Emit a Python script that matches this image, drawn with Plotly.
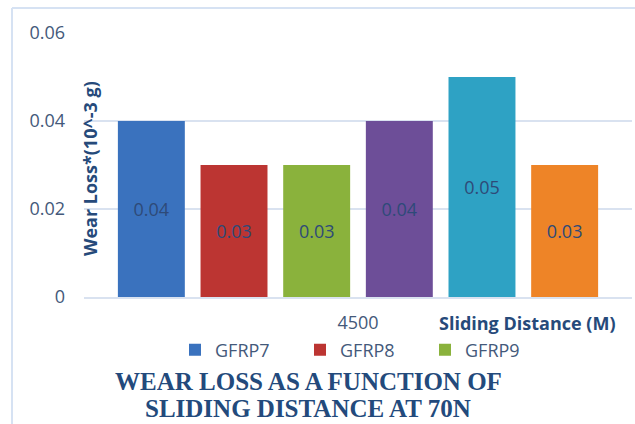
import plotly.graph_objects as go

categories = ["4500"]
series_names = ["GFRP7", "GFRP8", "GFRP9", "GFRP10", "GFRP11", "GFRP12"]
series_values = [0.04, 0.03, 0.03, 0.04, 0.05, 0.03]
series_colors = ["#3A72BE", "#BC3532", "#8AB23C", "#6D4E98", "#2EA2C4", "#EE8427"]
show_in_legend = [True, True, True, False, False, False]
y_ticks = [0, 0.02, 0.04, 0.06]
y_tick_labels = ["0", "0.02", "0.04", "0.06"]
title_lines = ["WEAR LOSS AS A FUNCTION OF", "SLIDING DISTANCE AT 70N"]

W, H = 635, 424
L, R, T, B = 84, 3, 33, 127
pw, ph = W - L - R, H - T - B


def px(x):
    return (x - L) / pw


def py(y):
    return (H - B - y) / ph


fig = go.Figure()
for name, val, col, sl in zip(series_names, series_values, series_colors, show_in_legend):
    fig.add_trace(go.Bar(
        x=categories, y=[val], name=name, marker_color=col,
        marker_line_width=0, showlegend=sl,
        text=[f"{val:.2f}"], textposition="inside", insidetextanchor="middle",
        textfont=dict(family="Open Sans", size=18, color="#2E4A78"),
        textangle=0,
    ))

annotations = [
    dict(text="<b>Sliding Distance (M)</b>", x=px(527), y=py(323), xref="paper", yref="paper",
         xanchor="center", yanchor="middle",
         showarrow=False, font=dict(family="Open Sans", size=18, color="#264A7A")),
    dict(text="<b>Wear Loss*(10^-3 g)</b>", x=px(90), y=py(169), xref="paper", yref="paper",
         xanchor="center", yanchor="middle",
         textangle=-90, showarrow=False, font=dict(family="Open Sans", size=18, color="#264A7A")),
]
for line, yc in zip(title_lines, [381, 408]):
    annotations.append(dict(text=f"<b>{line}</b>", x=px(308), y=py(yc), xref="paper", yref="paper",
                            xanchor="center", yanchor="middle", showarrow=False,
                            font=dict(family="Liberation Serif", size=25, color="#234A7C")))

fig.update_layout(
    width=W, height=H,
    margin=dict(l=L, r=R, t=T, b=B),
    paper_bgcolor="white", plot_bgcolor="white",
    barmode="group", bargap=0.095, bargroupgap=0.19,
    uniformtext=dict(minsize=8, mode="show"),
    font=dict(family="Open Sans", color="#44597A"),
    xaxis=dict(showgrid=False, showline=True, linecolor="#D9E2F0", linewidth=1.5,
               tickfont=dict(size=18, color="#44597A"), ticklabelstandoff=9),
    yaxis=dict(range=[0, 0.06], tickvals=y_ticks, ticktext=y_tick_labels,
               showgrid=True, gridcolor="#D9E2F0", gridwidth=1.5, zeroline=False,
               tickfont=dict(size=18, color="#44597A"), ticklabelstandoff=18),
    legend=dict(orientation="h", x=px(175), y=py(350), xanchor="left", yanchor="middle",
                entrywidth=80, entrywidthmode="pixels",
                font=dict(size=18, color="#44597A"), bgcolor="rgba(0,0,0,0)"),
    annotations=annotations,
    shapes=[
        dict(type="line", xref="paper", yref="paper", x0=px(12), x1=px(12), y0=py(8), y1=py(424),
             line=dict(color="#D6E2F3", width=2)),
        dict(type="line", xref="paper", yref="paper", x0=px(12), x1=px(635), y0=py(8), y1=py(8),
             line=dict(color="#D6E2F3", width=2)),
    ],
)

fig.write_html("out.html", config={"displayModeBar": False},
               post_script="document.body.style.margin='0';")
